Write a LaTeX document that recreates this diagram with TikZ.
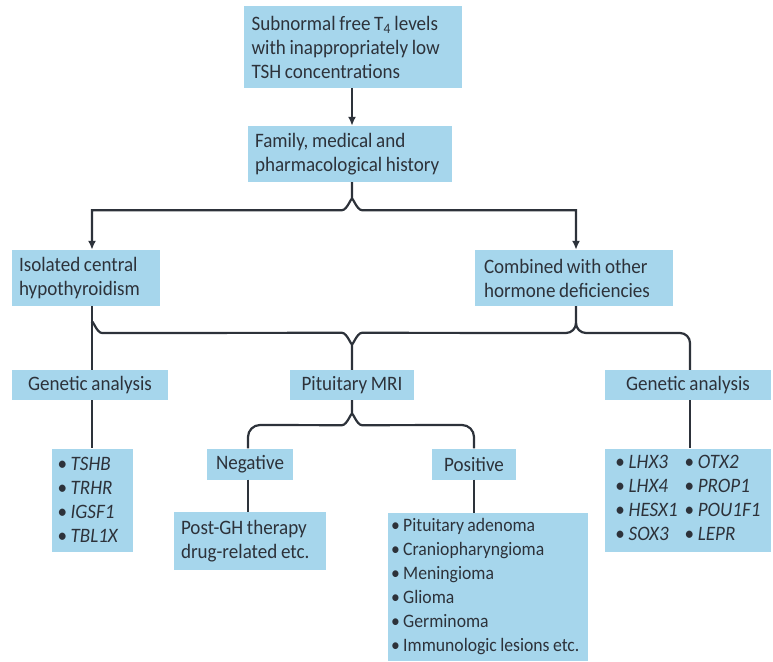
\documentclass[tikz,border=0pt]{standalone}
\usepackage{fontspec}
\setmainfont{Carlito}[FakeStretch=0.93, WordSpace=0.85]
\usetikzlibrary{arrows.meta}

\definecolor{boxblue}{RGB}{166,214,236}
\definecolor{inkgrey}{RGB}{45,50,58}

\hyphenpenalty=10000
\exhyphenpenalty=10000

\tikzset{
  box/.style={fill=boxblue, text=inkgrey, inner xsep=9pt, inner ysep=0pt, align=left,
    font=\fontsize{20.5}{24}\selectfont,
    execute at begin node={\spaceskip=0pt\xspaceskip=0pt\relax}},
  conn/.style={draw=inkgrey, line width=2.2pt},
  arr/.style={conn, -{Latex[length=9pt,width=8pt]}}
}

\begin{document}
\begin{tikzpicture}[x=1pt,y=-1pt]
  \useasboundingbox (0,0) rectangle (773,661);

  % Nodes
  \node[box, minimum width=218pt, minimum height=82pt, text width=203pt, inner xsep=7.5pt] at (353,47) (tsh)
    {Subnormal free T\textsubscript{4} levels\\with inappropriately low\\TSH concentrations};
  \node[box, minimum width=204pt, minimum height=56pt, text width=190pt, inner xsep=7pt] at (350,154) (hist)
    {Family, medical and\\pharmacological history};
  \node[box, minimum width=148pt, minimum height=56pt, text width=134pt, inner xsep=7pt] at (86,278) (iso)
    {Isolated central\\hypothyroidism};
  \node[box, minimum width=198pt, minimum height=56pt, text width=180pt] at (574,278) (comb)
    {Combined with other\\hormone deficiencies};

  \node[box, minimum width=156pt, minimum height=30pt] at (90,385) (genL) {Genetic analysis};
  \node[box, minimum width=124pt, minimum height=30pt] at (352,385) (mri) {Pituitary MRI};
  \node[box, minimum width=166pt, minimum height=30pt] at (688,385) (genR) {Genetic analysis};

  \node[box, minimum width=86pt, minimum height=31pt] at (250,464) (neg) {Negative};
  \node[box, minimum width=84pt, minimum height=31pt] at (474,464) (pos) {Positive};

  \node[box, minimum width=152pt, minimum height=58pt, text width=138pt, inner xsep=7pt] at (250,541) (postgh)
    {Post-GH therapy\\drug-related etc.};
  \node[box, minimum width=200pt, minimum height=148pt, text width=194pt, inner xsep=3pt,
    font=\fontsize{19}{24}\selectfont] at (488,587) (tumours)
    {\textbullet\ Pituitary adenoma\\\textbullet\ Craniopharyngioma\\\textbullet\ Meningioma\\
     \textbullet\ Glioma\\\textbullet\ Germinoma\\\textbullet\ Immunologic lesions~etc.};
  \node[box, minimum width=81pt, minimum height=103pt, text width=69pt, inner xsep=6pt] at (92,500) (genesL)
    {\textbullet\ \textit{TSHB}\\\textbullet\ \textit{TRHR}\\\textbullet\ \textit{IGSF1}\\\textbullet\ \textit{TBL1X}};
  \node[box, minimum width=166pt, minimum height=103pt, inner xsep=6pt] at (688,500) (genesR)
    {\begin{tabular}{@{}l@{\hspace{7pt}}l@{}}
     \textbullet\ \textit{LHX3} & \textbullet\ \textit{OTX2}\\
     \textbullet\ \textit{LHX4} & \textbullet\ \textit{PROP1}\\
     \textbullet\ \textit{HESX1} & \textbullet\ \textit{POU1F1}\\
     \textbullet\ \textit{SOX3} & \textbullet\ \textit{LEPR}
     \end{tabular}};

  % Connectors
  \draw[arr] (tsh.south -| 352,0) -- (hist.north -| 352,0);

  \draw[arr] (hist.south -| 352,0) -- ++(0,18) to[out=90,in=0] ++(-10,10) -| (iso.north -| 92,0);
  \draw[arr] (hist.south -| 352,0) ++(0,18) to[out=90,in=180] ++(10,10) -| (comb.north -| 576,0);

  \draw[conn] (iso.south -| 92,0) -- (genL.north -| 92,0);
  \draw[conn] (mri.north) -- ++(0,-27) to[out=-90,in=0] ++(-10,-10) -- (102,333) to[out=180,in=90] (92,323);
  \draw[conn] (mri.north) ++(0,-27) to[out=-90,in=180] ++(10,-10) -- (566,333) to[out=0,in=-90] (576,323) -- (comb.south -| 576,0);
  \draw[conn] (576,323) to[out=-90,in=180] ++(10,10) -- (680,333) to[out=0,in=90] ++(10,10) -- (genR.north -| 690,0);

  \draw[conn] (mri.south) -- ++(0,15) to[out=90,in=0] ++(-10,10) -- (260,425) to[out=180,in=90] (248,437) -- (neg.north -| 248,0);
  \draw[conn] (mri.south) ++(0,15) to[out=90,in=180] ++(10,10) -- (462,425) to[out=0,in=90] (474,437) -- (pos.north);

  \draw[conn] (neg.south -| 248,0) -- (postgh.north -| 248,0);
  \draw[conn] (pos.south) -- (pos.south |- tumours.north);
  \draw[conn] (genL.south -| 92,0) -- (genesL.north -| 92,0);
  \draw[conn] (genR.south -| 690,0) -- (genesR.north -| 690,0);
\end{tikzpicture}
\end{document}
